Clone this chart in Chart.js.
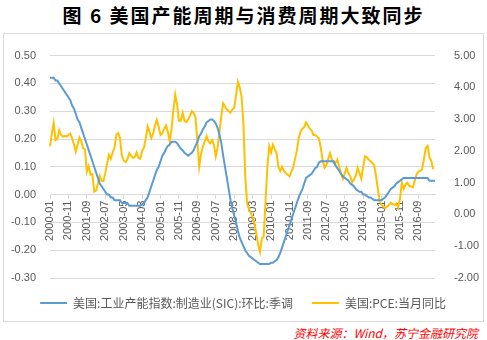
<!DOCTYPE html>
<html>
<head>
<meta charset="utf-8">
<script src="https://cdn.jsdelivr.net/npm/chart.js@4.4.0/dist/chart.umd.min.js"></script>
<style>
  html, body { margin: 0; padding: 0; background: #fff; overflow: hidden; }
  body { width: 487px; height: 340px; position: relative; }
  #title { position: absolute; left: 0; top: 3px; width: 487px; text-align: center; font: bold 19px "Noto Sans CJK SC"; letter-spacing: 2px; line-height: 24px; color: #000; }
  #frame { position: absolute; left: 3px; top: 33px; width: 479px; height: 287px; border: 1px solid #d9d9d9; }
  #wrap { position: absolute; left: 4px; top: 35px; width: 478px; height: 284px; }
  #source { position: absolute; right: 9px; top: 324px; font: italic 12px "Noto Sans CJK SC"; line-height: 17px; color: #f00; }
</style>
</head>
<body>
<div id="title">图 6 美国产能周期与消费周期大致同步</div>
<div id="frame"></div>
<div id="wrap"><canvas id="chart"></canvas></div>
<div id="source">资料来源：Wind，苏宁金融研究院</div>
<script>
// monthly categories 2000-01 .. 2017-06
const months = [];
for (let i = 0; i < 210; i++) {
  const y = 2000 + Math.floor(i / 12);
  const m = (i % 12) + 1;
  months.push(y + "-" + (m < 10 ? "0" + m : m));
}

const seriesNames = ["美国:工业产能指数:制造业(SIC):环比:季调", "美国:PCE:当月同比"];

// left axis: capacity index, month-on-month
const capacityMoM = [
  0.42, 0.42, 0.42, 0.41, 0.41, 0.40, 0.39, 0.38, 0.37, 0.36,
  0.35, 0.34, 0.32, 0.31, 0.29, 0.27, 0.26, 0.24, 0.22, 0.20,
  0.18, 0.16, 0.14, 0.12, 0.10, 0.08, 0.06, 0.04, 0.03, 0.02,
  0.01, 0.00, 0.00, -0.01, -0.01, -0.02, -0.02, -0.02, -0.02, -0.03,
  -0.03, -0.03, -0.03, -0.04, -0.04, -0.04, -0.04, -0.04, -0.04, -0.04,
  -0.035, -0.03, -0.02, -0.01, 0.01, 0.03, 0.05, 0.07, 0.09, 0.10,
  0.12, 0.14, 0.15, 0.165, 0.175, 0.18, 0.19, 0.19, 0.19, 0.185,
  0.175, 0.165, 0.16, 0.15, 0.145, 0.14, 0.145, 0.15, 0.16, 0.175,
  0.19, 0.21, 0.22, 0.235, 0.245, 0.26, 0.265, 0.27, 0.27, 0.265,
  0.255, 0.24, 0.215, 0.185, 0.14, 0.10, 0.06, 0.02, -0.02, -0.05,
  -0.075, -0.10, -0.13, -0.155, -0.17, -0.185, -0.20, -0.21, -0.22, -0.225,
  -0.23, -0.235, -0.24, -0.245, -0.25, -0.25, -0.25, -0.25, -0.25, -0.25,
  -0.245, -0.245, -0.24, -0.235, -0.225, -0.21, -0.19, -0.17, -0.15, -0.13,
  -0.11, -0.09, -0.07, -0.05, -0.03, -0.01, 0.005, 0.02, 0.04, 0.06,
  0.065, 0.07, 0.075, 0.085, 0.095, 0.10, 0.115, 0.12, 0.12, 0.12,
  0.12, 0.12, 0.12, 0.12, 0.12, 0.105, 0.095, 0.085, 0.075, 0.065,
  0.06, 0.055, 0.05, 0.04, 0.035, 0.03, 0.02, 0.015, 0.01, 0.01,
  0.00, 0.00, -0.005, -0.01, -0.01, -0.015, -0.02, -0.02, -0.02, -0.02,
  -0.02, -0.015, -0.01, 0.00, 0.01, 0.02, 0.025, 0.03, 0.04, 0.045,
  0.05, 0.055, 0.06, 0.06, 0.06, 0.06, 0.06, 0.06, 0.06, 0.06,
  0.06, 0.06, 0.06, 0.06, 0.06, 0.06, 0.05, 0.05, 0.05, 0.05
];

// right axis: PCE, year-on-year (%)
const pceYoY = [
  2.14, 2.55, 2.88, 2.34, 2.38, 2.65, 2.50, 2.45, 2.47, 2.45,
  2.50, 2.55, 2.40, 2.20, 1.98, 2.20, 2.42, 2.30, 2.08, 2.05,
  1.35, 1.52, 1.25, 1.27, 0.72, 0.75, 0.96, 1.22, 1.06, 1.05,
  1.30, 1.60, 1.88, 1.75, 1.95, 2.10, 2.50, 2.56, 2.40, 1.85,
  1.70, 1.65, 1.73, 1.93, 1.85, 1.78, 1.80, 1.95, 1.78, 1.75,
  2.00, 2.10, 2.40, 2.77, 2.60, 2.40, 2.55, 2.80, 2.98, 2.75,
  2.50, 2.55, 2.70, 2.80, 2.60, 2.30, 2.70, 3.30, 3.77, 3.45,
  2.95, 2.95, 3.20, 2.95, 2.90, 3.00, 3.10, 3.25, 3.20, 3.05,
  2.30, 1.50, 1.90, 2.14, 2.30, 2.46, 2.30, 2.24, 2.34, 2.20,
  1.83, 2.10, 2.60, 3.10, 3.50, 3.40, 3.30, 3.25, 3.20, 3.30,
  3.36, 3.75, 4.18, 4.00, 3.70, 2.85, 1.20, 0.35, 0.15, 0.05,
  -0.10, -0.30, -0.60, -0.95, -1.18, -0.75, -0.70, 0.40, 1.50, 2.15,
  1.95, 2.20, 2.05, 1.93, 1.50, 1.37, 1.50, 1.37, 1.30, 1.25,
  1.20, 1.35, 1.47, 1.75, 2.00, 2.40, 2.60, 2.70, 2.75, 2.90,
  2.80, 2.70, 2.65, 2.50, 2.50, 2.45, 2.39, 2.10, 1.70, 1.47,
  1.55, 1.75, 1.93, 1.73, 1.62, 1.62, 1.73, 1.50, 1.27, 1.12,
  1.30, 1.47, 1.30, 1.20, 1.01, 1.10, 1.22, 1.47, 1.30, 1.12,
  1.50, 1.83, 1.80, 1.73, 1.68, 1.62, 1.55, 1.20, 0.80, 0.40,
  0.30, 0.25, 0.20, 0.25, 0.30, 0.37, 0.32, 0.30, 0.35, 0.22,
  0.50, 1.00, 0.81, 0.95, 1.00, 0.90, 0.88, 0.86, 1.06, 1.27,
  1.35, 1.37, 1.42, 1.75, 2.10, 2.16, 1.80, 1.68, 1.42
];

const tickFont = { family: "Liberation Sans", size: 11 };
const gridColor = "#d9d9d9";
const textColor = "#595959";

new Chart(document.getElementById("chart").getContext("2d"), {
  type: "line",
  data: {
    labels: months,
    datasets: [
      {
        label: seriesNames[0],
        data: capacityMoM,
        yAxisID: "y",
        borderColor: "#5b9bd5",
        backgroundColor: "#5b9bd5",
        borderWidth: 2,
        pointRadius: 0,
        pointStyle: "line",
      },
      {
        label: seriesNames[1],
        data: pceYoY,
        yAxisID: "y1",
        borderColor: "#ffc000",
        backgroundColor: "#ffc000",
        borderWidth: 2,
        pointRadius: 0,
        pointStyle: "line",
      }
    ]
  },
  options: {
    responsive: true,
    maintainAspectRatio: false,
    animation: false,
    layout: { padding: { top: 7, left: 0, right: 0, bottom: 0 } },
    plugins: {
      legend: {
        position: "bottom",
        labels: {
          usePointStyle: true,
          pointStyleWidth: 27,
          padding: 19,
          color: textColor,
          font: { family: "Noto Sans CJK SC", size: 12 }
        }
      },
      tooltip: { enabled: false }
    },
    scales: {
      x: {
        position: { y: 0 },
        grid: { drawOnChartArea: false, tickLength: 4, color: gridColor },
        border: { color: gridColor },
        ticks: { autoSkip: false, maxRotation: 90, minRotation: 90, padding: 2, color: textColor, font: tickFont },
        afterBuildTicks: (scale) => {
          scale.ticks = scale.ticks.filter((t) => t.value % 10 === 0); // a label every 10 months
        }
      },
      y: {
        position: "left",
        min: -0.3,
        max: 0.5,
        ticks: { stepSize: 0.1, padding: 14, color: textColor, font: tickFont, callback: (v) => v.toFixed(2) },
        grid: { color: gridColor, drawTicks: false },
        border: { display: false },
        afterFit: (scale) => { scale.width = 46; }
      },
      y1: {
        position: "right",
        min: -2,
        max: 5,
        ticks: { stepSize: 1, padding: 11, color: textColor, font: tickFont, callback: (v) => v.toFixed(2) },
        grid: { display: false },
        border: { display: false },
        afterFit: (scale) => { scale.width = 47; }
      }
    }
  }
});
</script>
</body>
</html>
